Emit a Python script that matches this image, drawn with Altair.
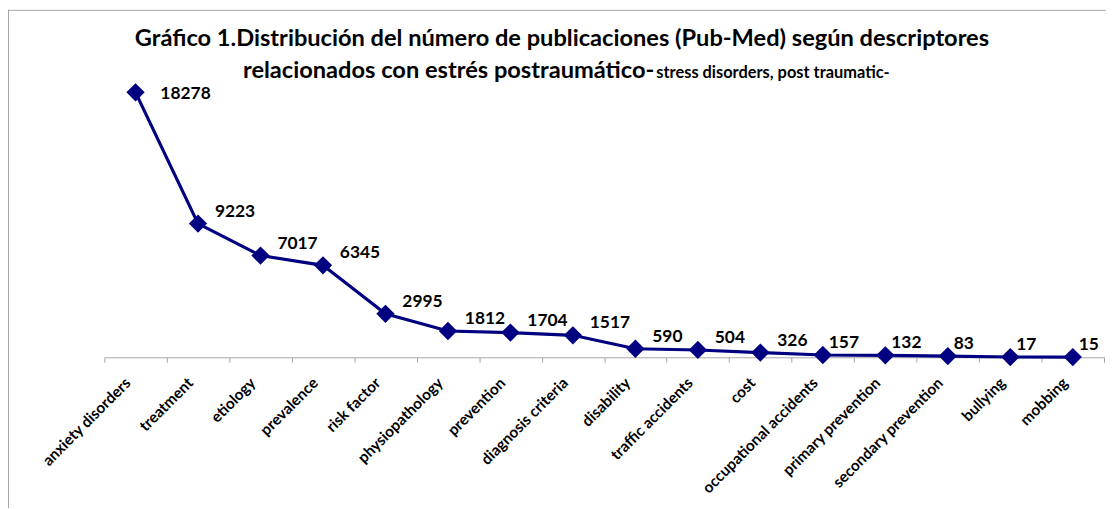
import altair as alt
import pandas as pd

categories = ["anxiety disorders", "treatment", "etiology", "prevalence", "risk factor",
              "physiopathology", "prevention", "diagnosis criteria", "disability",
              "traffic accidents", "cost", "occupational accidents", "primary prevention",
              "secondary prevention", "bullying", "mobbing"]
values = [18278, 9223, 7017, 6345, 2995, 1812, 1704, 1517, 590, 504, 326, 157, 132, 83, 17, 15]

title_line1 = "Gráfico 1.Distribución del número de publicaciones (Pub-Med) según descriptores"
title_line2a = "relacionados con estrés postraumático-"
title_line2b = "stress disorders, post traumatic-"

df = pd.DataFrame({"cat": categories, "val": values})

NAVY = "#000080"
FONT = "Lato"
GRAY = "#A6A6A6"

x = alt.X("cat:N", sort=categories,
          scale=alt.Scale(paddingInner=0, paddingOuter=0),
          axis=alt.Axis(title=None, labelAngle=-45, labelAlign="right", labelBaseline="top",
                        labelFont=FONT, labelFontWeight="bold", labelFontSize=15.5,
                        labelColor="black", labelPadding=13, labelOffset=-13,
                        tickBand="extent", tickSize=5, tickColor=GRAY, domainColor=GRAY,
                        grid=False, labelOverlap=False, labelBound=False, labelFlush=False))
y = alt.Y("val:Q", scale=alt.Scale(domain=[0, 20000]), axis=None)

base = alt.Chart(df)
line = base.mark_line(color=NAVY, strokeWidth=3.2).encode(x=x, y=y)
pts = base.mark_point(shape="diamond", filled=True, color=NAVY, size=340, opacity=1).encode(x=x, y=y)

label_style = dict(align="left", baseline="middle", font=FONT,
                   fontWeight="bold", fontSize=17.5, color="black")
lab = base.transform_joinaggregate(mx="max(val)")
enc = dict(x=x, y=y, text=alt.Text("val:Q", format="d"))
labels_top = lab.transform_filter("datum.val == datum.mx").mark_text(
    dx=25, dy=2, **label_style).encode(**enc)
labels_mid = lab.transform_filter("datum.val < datum.mx && datum.val >= 300").mark_text(
    dx=17, dy=-12, **label_style).encode(**enc)
labels_low = lab.transform_filter("datum.val < 300").mark_text(
    dx=6, dy=-12, **label_style).encode(**enc)

t1 = alt.Chart(pd.DataFrame({"t": [title_line1]})).mark_text(
    align="center", baseline="alphabetic", font=FONT, fontWeight="bold", fontSize=23.8,
    color="black").encode(x=alt.value(461), y=alt.value(-22), text="t:N")
t2a = alt.Chart(pd.DataFrame({"t": [title_line2a]})).mark_text(
    align="right", baseline="alphabetic", font=FONT, fontWeight="bold", fontSize=23.8,
    color="black").encode(x=alt.value(554), y=alt.value(11), text="t:N")
t2b = alt.Chart(pd.DataFrame({"t": [title_line2b]})).mark_text(
    align="left", baseline="alphabetic", font=FONT, fontWeight="bold", fontSize=16.5,
    color="black").encode(x=alt.value(556), y=alt.value(11), text="t:N")

frame_top = alt.Chart(pd.DataFrame({"a": [0]})).mark_rule(color=GRAY, strokeWidth=1).encode(
    x=alt.value(-97), x2=alt.value(1030), y=alt.value(-57.5))
frame_left = alt.Chart(pd.DataFrame({"a": [0]})).mark_rule(color=GRAY, strokeWidth=1).encode(
    x=alt.value(-96.5), y=alt.value(-58), y2=alt.value(480))

chart = alt.layer(frame_top, frame_left, line, pts, labels_top, labels_mid, labels_low,
                  t1, t2a, t2b).properties(
    width=1007, height=292,
    padding={"left": 97, "top": 58, "right": 2, "bottom": 150},
    autosize=alt.AutoSizeParams(type="none"),
    background="white",
).configure_view(stroke=None)

chart.save("out.html", embed_options={"renderer": "svg", "actions": False})
